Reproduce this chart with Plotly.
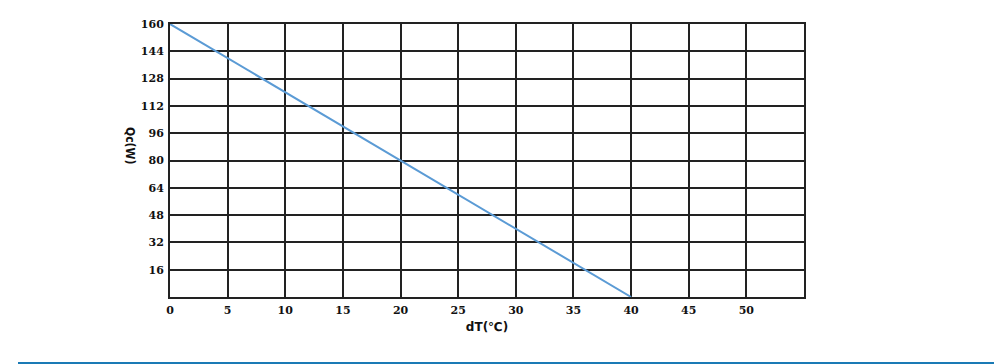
import plotly.graph_objects as go

# Data
dT = [0, 40]
Qc = [160, 0]
x_ticks = [0, 5, 10, 15, 20, 25, 30, 35, 40, 45, 50]
y_ticks = [16, 32, 48, 64, 80, 96, 112, 128, 144, 160]

W, H = 994, 364
L, R, T, B = 170, 804, 24, 297

fig = go.Figure()
fig.add_trace(go.Scatter(x=dT, y=Qc, mode="lines",
                         line=dict(color="#5b9bd5", width=2), showlegend=False,
                         cliponaxis=False))

tickfont = dict(family="DejaVu Serif", size=11, color="#111", weight="bold")
fig.update_layout(
    width=W, height=H,
    margin=dict(l=L, r=W - R, t=T, b=H - B, pad=0),
    paper_bgcolor="white", plot_bgcolor="white",
    xaxis=dict(range=[0, 55], tickvals=x_ticks, ticktext=[str(v) for v in x_ticks],
               showgrid=True, gridcolor="#222", gridwidth=2,
               showline=True, linecolor="#222", linewidth=2, mirror=True,
               ticks="", zeroline=False, tickfont=tickfont,
               title=dict(text="<b>dT(℃)</b>", font=dict(family="DejaVu Sans", size=12, color="#111"),
                          standoff=6)),
    yaxis=dict(range=[0, 160], tickvals=y_ticks, ticktext=[str(v) for v in y_ticks],
               showgrid=True, gridcolor="#222", gridwidth=2,
               showline=True, linecolor="#222", linewidth=2, mirror=True,
               ticks="", zeroline=False, tickfont=tickfont),
    annotations=[dict(text="<b>Qc(W)</b>", textangle=90, xref="paper", yref="paper",
                      x=(130 - L) / (R - L), y=(B - 145) / (B - T), xanchor="center", yanchor="middle",
                      showarrow=False, font=dict(family="DejaVu Sans Condensed", size=12, color="#111"))],
    shapes=[dict(type="line", xref="paper", yref="paper",
                 x0=(18 - L) / (R - L), x1=(994 - L) / (R - L),
                 y0=(B - 363) / (B - T), y1=(B - 363) / (B - T),
                 line=dict(color="#1a7ab5", width=2))],
)
fig.update_yaxes(ticklabelstandoff=2)
fig.update_xaxes(ticklabelstandoff=2)

fig.write_html("out.html")
